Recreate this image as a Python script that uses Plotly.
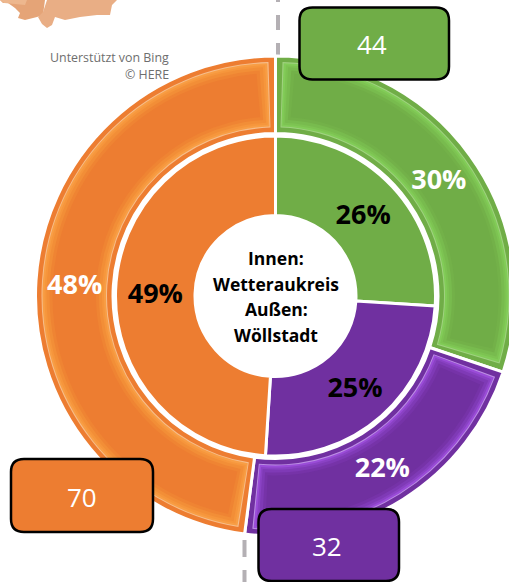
import math
import plotly.graph_objects as go

W, H = 518, 582
CX, CY = 275.5, 296

# Data
categories = ["Grün", "Lila", "Orange"]
outer_counts = [44, 32, 70]
inner_percent = [26, 25, 49]
center_lines = ["Innen:", "Wetteraukreis", "Außen:", "Wöllstadt"]

# Style
base = ["#70AD47", "#7030A0", "#ED7D31"]
CLEAR = "rgba(0,0,0,0)"
R_OUT, R_OUT_IN = 240, 162.5
R_IN, R_HOLE = 160, 80.5
bevel = [
    (6, ["#A0D280", "#BC8EE4", "#F6BE8C"]),
    (7, ["#82CC58", "#9A4CD8", "#F89E45"]),
    (9, ["#7DC352", "#8A42C4", "#F6963C"]),
    (11, ["#78BB4E", "#7F3AB6", "#F28E37"]),
    (14, ["#73B149", "#7633A8", "#EF8433"]),
    (17, base),
]


def px(x):
    return x / W


def py(y):
    return 1 - y / H


def pie(values, colors, r, hole_r, **kw):
    return go.Pie(
        values=values, sort=False, direction="clockwise", rotation=0,
        hole=hole_r / r,
        domain=dict(x=[px(CX - r), px(CX + r)], y=[py(CY + r), py(CY - r)]),
        marker=dict(colors=colors, line=kw.pop("line", dict(width=0))),
        showlegend=False, **kw,
    )


def inset(values, colors, d, r):
    total = sum(values)
    gap = total * d / (2 * math.pi * r)
    vals, cols = [], []
    for v, c in zip(values, colors):
        vals += [gap, v - 2 * gap, gap]
        cols += [CLEAR, c, CLEAR]
    return vals, cols


def box(x0, y0, x1, y1, fill, rad=13):
    path = (f"M{px(x0 + rad)},{py(y0)} L{px(x1 - rad)},{py(y0)} "
            f"Q{px(x1)},{py(y0)} {px(x1)},{py(y0 + rad)} L{px(x1)},{py(y1 - rad)} "
            f"Q{px(x1)},{py(y1)} {px(x1 - rad)},{py(y1)} L{px(x0 + rad)},{py(y1)} "
            f"Q{px(x0)},{py(y1)} {px(x0)},{py(y1 - rad)} L{px(x0)},{py(y0 + rad)} "
            f"Q{px(x0)},{py(y0)} {px(x0 + rad)},{py(y0)} Z")
    return dict(type="path", xref="paper", yref="paper", path=path, fillcolor=fill,
                line=dict(color="#000000", width=2.5), layer="above")


def poly(points, fill):
    path = "M" + " L".join(f"{px(x)},{py(y)}" for x, y in points) + " Z"
    return dict(type="path", xref="paper", yref="paper", path=path, fillcolor=fill,
                line=dict(width=0), layer="below")


traces = [pie(outer_counts, base, R_OUT, R_OUT_IN, hoverinfo="skip", textinfo="none",
              line=dict(color="#FFFFFF", width=3))]
for d, cols in bevel:
    vals, c = inset(outer_counts, cols, d, 200)
    traces.append(pie(vals, c, R_OUT - d, R_OUT_IN + d, hoverinfo="skip", textinfo="none"))

traces.append(pie(outer_counts, [CLEAR] * 3, R_OUT, R_OUT_IN, labels=categories,
                  texttemplate="%{percent:.0%}", textposition="inside",
                  insidetextorientation="horizontal",
                  textfont=dict(family="Open Sans", size=27, color="#FFFFFF", weight="bold")))
traces.append(pie(inner_percent, base, R_IN, R_HOLE, labels=categories,
                  texttemplate="%{percent:.0%}", textposition="inside",
                  insidetextorientation="horizontal",
                  line=dict(color="#FFFFFF", width=3),
                  textfont=dict(family="Open Sans", size=27, color="#000000", weight="bold")))

fig = go.Figure(traces)

shapes = [
    poly([(0, 0), (3, 3), (8, 3), (15, 8), (20, 13), (18, 18), (25, 20), (37, 17),
          (43, 15), (45, 0)], "#E5A477"),
    poly([(0, 0), (4, 3), (15, 4), (25, 5), (27, 0)], "#EDB78E"),
    poly([(47, 0), (43, 12), (38, 17), (42, 24), (47, 28), (52, 25), (55, 17), (65, 20),
          (80, 17), (97, 15), (110, 15), (112, 5), (117, 0)], "#E9AE85"),
    dict(type="line", xref="paper", yref="paper", x0=px(278), x1=px(278), y0=py(-13), y1=py(62),
         line=dict(color="#B4B0B4", width=4, dash="15px,13px"), layer="below"),
    dict(type="line", xref="paper", yref="paper", x0=px(244.5), x1=px(244.5), y0=py(540), y1=py(590),
         line=dict(color="#B4B0B4", width=4, dash="17px,13px"), layer="below"),
    box(299.5, 7.5, 449, 79.5, "#70AD47"),
    box(11, 459, 153, 532, "#ED7D31"),
    box(258.5, 509, 399, 581, "#7030A0"),
]

annotations = []


def note(text, x, y, size, color, anchor="center", bold=False):
    annotations.append(dict(
        text=text, x=px(x), y=py(y), xref="paper", yref="paper", showarrow=False,
        xanchor=anchor, yanchor="middle",
        font=dict(family="Open Sans", size=size, color=color, weight="bold" if bold else "normal"),
    ))


for line, y in zip(center_lines, [258, 284, 309, 335]):
    note(line, 276, y, 17.5, "#000000", bold=True)
note(str(outer_counts[0]), 372, 44, 26, "#FFFFFF")
note(str(outer_counts[2]), 82, 497, 26, "#FFFFFF")
note(str(outer_counts[1]), 327, 546, 26, "#FFFFFF")
note("Unterstützt von Bing", 171, 58, 12.4, "#6E6E6E", anchor="right")
note("© HERE", 171, 74, 12.4, "#6E6E6E", anchor="right")

fig.update_layout(
    width=W, height=H, margin=dict(l=0, r=0, t=0, b=0), autosize=False,
    paper_bgcolor="#FFFFFF", plot_bgcolor="#FFFFFF",
    shapes=shapes, annotations=annotations,
)
fig.write_html(
    "out.html", config=dict(displayModeBar=False),
    post_script="document.body.style.margin='0';document.documentElement.style.overflow='hidden';",
)
